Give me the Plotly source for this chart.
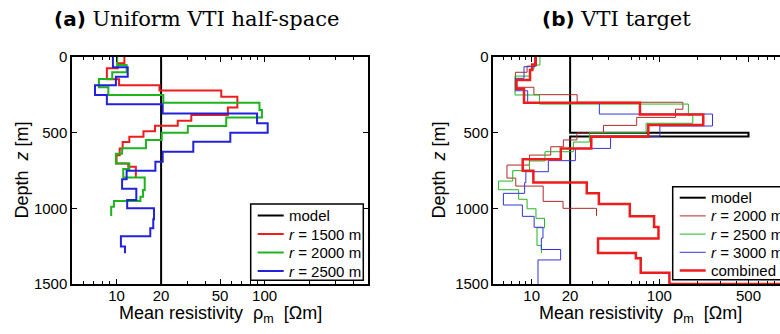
import math
import plotly.graph_objects as go

# ---------------- Panel (a): Uniform VTI half-space ----------------
a_model_top = [0]
a_model_val = [20]
a_model_bot = 1500

a_r1500_top = [0, 42, 75, 147, 187, 222, 262, 333, 383, 421, 454, 490, 527, 562, 605, 650, 703, 725]
a_r1500_val = [11.3, 10.2, 8.6, 10.4, 19.5, 51, 65.5, 56.5, 32, 25.9, 18.2, 15.2, 12.2, 11.0, 10.5, 10.0, 12.0, 13.5]
a_r1500_bot = 795

a_r2000_top = [0, 53, 101, 145, 200, 251, 302, 350, 399, 456, 500, 548, 603, 640, 703, 740, 797, 879, 923, 952, 989]
a_r2000_val = [10.1, 11.7, 9.35, 7.6, 8.8, 20.7, 92.4, 96, 55.1, 30.3, 20.2, 15.8, 10.9, 9.9, 12.2, 11.1, 15.5, 15.1, 14.5, 9.6, 9.2]
a_r2000_bot = 1051

a_r2500_top = [0, 68, 130, 187, 251, 312, 374, 438, 500, 560, 626, 692, 751, 808, 870, 945, 1000, 1072, 1132, 1185, 1252]
a_r2500_val = [9.45, 11.9, 9.9, 7.15, 8.6, 20.5, 89, 105, 58.7, 33, 20.5, 18.3, 11.7, 10.9, 13.6, 11.8, 17.9, 17.7, 16.9, 10.7, 11.4]
a_r2500_bot = 1297

# ---------------- Panel (b): VTI target ----------------
b_model_top = [0, 500, 525]
b_model_val = [20, 500, 20]
b_model_bot = 1500

b_r2000_top = [0, 60, 101, 200, 249, 299, 345, 399, 452, 502, 548, 593, 648, 714, 800, 853, 954, 1000]
b_r2000_val = [10.9, 9.2, 7.45, 10.4, 22.7, 153, 134, 66.5, 36.5, 22.6, 17.7, 14.1, 9.6, 6.4, 7.5, 12.3, 17.6, 32.2]
b_r2000_bot = 1050

b_r2500_top = [0, 53, 80, 126, 251, 311, 385, 438, 500, 562, 626, 687, 751, 820, 877, 940, 1003, 1066, 1128, 1245]
b_r2500_val = [11.6, 10.4, 9.7, 7.4, 11.5, 169, 183, 78.8, 28.3, 21.2, 12.7, 9.6, 7.1, 5.5, 7.9, 9.2, 10.8, 12.6, 11.0, 11.9]
b_r2500_bot = 1297

b_r3000_top = [0, 64, 141, 223, 306, 377, 456, 524, 604, 685, 758, 830, 901, 978, 1053, 1125, 1197, 1272, 1341]
b_r3000_val = [10.6, 8.7, 7.45, 9.3, 33.9, 261, 101, 41.5, 22.0, 13.5, 9.0, 8.8, 6.0, 8.45, 10.45, 12.25, 11.9, 16.85, 11.2]
b_r3000_bot = 1500

b_comb_top = [0, 50, 86, 152, 210, 302, 380, 450, 527, 604, 676, 751, 830, 900, 972, 1053, 1123, 1200, 1295, 1330, 1425, 1500]
b_comb_val = [10.7, 10.1, 9.7, 7.6, 8.7, 70.5, 221, 82, 29.3, 16.9, 8.5, 10.3, 27.0, 33.6, 58.7, 91, 98.5, 33.1, 65.5, 71.5, 120, 2000]
b_comb_bot = 1500

a_ticks = [10, 20, 50, 100]
b_ticks = [10, 20, 100, 500]
a_minor = [6, 7, 8, 9, 30, 40, 60, 70, 80, 90, 200, 300, 400]
b_minor = [6, 7, 8, 9, 30, 40, 60, 70, 80, 90, 200, 300, 400, 600, 700, 800]
depth_ticks = [0, 500, 1000, 1500]

a_names = ["model", "<i>r</i> = 1500 m", "<i>r</i> = 2000 m", "<i>r</i> = 2500 m"]
b_names = ["model", "<i>r</i> = 2000 m", "<i>r</i> = 2500 m", "<i>r</i> = 3000 m", "combined"]

W, H = 780, 334
SANS = "Liberation Sans"
RED, GREEN, BLUE = "#ee1c1c", "#1db41d", "#2222dd"
a_styles = [("black", 2), (RED, 2), (GREEN, 2), (BLUE, 2)]
b_styles = [("black", 2), ("#b02a2a", 1), ("#22b822", 1), ("#3333dd", 1), (RED, 2.5)]


def steps(tops, vals, bot):
    return list(vals) + [vals[-1]], list(tops) + [bot]


fig = go.Figure()

a_series = [(a_model_top, a_model_val, a_model_bot), (a_r1500_top, a_r1500_val, a_r1500_bot),
            (a_r2000_top, a_r2000_val, a_r2000_bot), (a_r2500_top, a_r2500_val, a_r2500_bot)]
b_series = [(b_model_top, b_model_val, b_model_bot), (b_r2000_top, b_r2000_val, b_r2000_bot),
            (b_r2500_top, b_r2500_val, b_r2500_bot), (b_r3000_top, b_r3000_val, b_r3000_bot),
            (b_comb_top, b_comb_val, b_comb_bot)]

for (t, v, b), name, (c, w) in zip(a_series, a_names, a_styles):
    x, y = steps(t, v, b)
    fig.add_trace(go.Scatter(x=x, y=y, mode="lines", line_shape="vh", name=name,
                             line=dict(color=c, width=w), xaxis="x", yaxis="y", showlegend=False))
for (t, v, b), name, (c, w) in zip(b_series, b_names, b_styles):
    x, y = steps(t, v, b)
    fig.add_trace(go.Scatter(x=x, y=y, mode="lines", line_shape="vh", name=name,
                             line=dict(color=c, width=w), xaxis="x2", yaxis="y2", showlegend=False))

ydom = [50 / H, 277 / H]
common_x = dict(type="log", showgrid=False, zeroline=False, showline=True, linecolor="black",
                linewidth=1.5, ticks="inside", ticklen=5, tickcolor="black", mirror="ticks",
                ticklabelstandoff=-3,
                tickfont=dict(family=SANS, size=15, color="black"))
common_y = dict(range=[1500, 0], showgrid=False, zeroline=False, showline=True, linecolor="black",
                linewidth=1.5, ticks="inside", ticklen=5, tickcolor="black", tickvals=depth_ticks,
                tickfont=dict(family=SANS, size=15, color="black"), domain=ydom)

fig.update_layout(
    width=W, height=H, paper_bgcolor="white", plot_bgcolor="white",
    margin=dict(l=0, r=0, t=0, b=0, autoexpand=False),
    xaxis=dict(common_x, domain=[72 / W, 368 / W], range=[math.log10(5), math.log10(500)],
               tickvals=a_ticks, anchor="y",
               minor=dict(tickvals=a_minor, ticks="inside", ticklen=3, tickcolor="black")),
    yaxis=dict(common_y, anchor="x", mirror="ticks"),
    xaxis2=dict(common_x, domain=[493.3 / W, 1.0],
                range=[math.log10(5), math.log10(5) + (780 - 493.3) / 127.6],
                tickvals=b_ticks, anchor="y2",
                minor=dict(tickvals=b_minor, ticks="inside", ticklen=3, tickcolor="black")),
    yaxis2=dict(common_y, anchor="x2", mirror=False),
    showlegend=False,
)


def px(x):
    return x / W


def py(y):
    return 1 - y / H


shapes = []
ann = []


def legend_box(x0, x1, y0, rows, names, styles):
    shapes.append(dict(type="rect", xref="paper", yref="paper", x0=px(x0), x1=px(x1),
                       y0=py(y0), y1=py(rows[-1] + 9.3), line=dict(color="black", width=1.5),
                       fillcolor="white", layer="above"))
    for yy, name, (c, w) in zip(rows, names, styles):
        shapes.append(dict(type="line", xref="paper", yref="paper", x0=px(x0 + 7), x1=px(x0 + 33),
                           y0=py(yy), y1=py(yy), line=dict(color=c, width=w), layer="above"))
        ann.append(dict(x=px(x0 + 36), y=py(yy), xref="paper", yref="paper", showarrow=False,
                        text=name, font=dict(family=SANS, size=15, color="black"),
                        xanchor="left", yanchor="middle"))


legend_box(250.7, 363.3, 204, [215.5, 234, 252.5, 271], a_names, a_styles)
legend_box(672.7, 830, 186.7, [197.7, 215.9, 234.1, 252.3, 270.5], b_names, b_styles)

NB = "\u00a0"
xtitle = "Mean resistivity" + NB * 2 + "ρ<sub>m</sub>" + NB * 2 + "[Ωm]"
ytitle = "Depth" + NB * 2 + "<i>z</i>" + NB + "[m]"
ann.append(dict(x=196 / W, y=py(19), xref="paper", yref="paper", showarrow=False,
                text='<span style="font-family:DejaVu Sans;font-weight:bold;font-size:20px">(a)</span> Uniform VTI half-space',
                font=dict(family="DejaVu Serif", size=21, color="black"), xanchor="center", yanchor="middle"))
ann.append(dict(x=616 / W, y=py(19), xref="paper", yref="paper", showarrow=False,
                text='<span style="font-family:DejaVu Sans;font-weight:bold;font-size:20px">(b)</span> VTI target',
                font=dict(family="DejaVu Serif", size=21, color="black"), xanchor="center", yanchor="middle"))
for cx in (220, 640):
    ann.append(dict(x=cx / W, y=py(314), xref="paper", yref="paper", showarrow=False,
                    text=xtitle, font=dict(family=SANS, size=18, color="black"),
                    xanchor="center", yanchor="middle"))
for cx in (21, 438):
    ann.append(dict(x=cx / W, y=py(170.5), xref="paper", yref="paper", showarrow=False,
                    text=ytitle, textangle=-90, font=dict(family=SANS, size=18, color="black"),
                    xanchor="center", yanchor="middle"))
fig.update_layout(annotations=ann, shapes=shapes)

fig.write_html("out.html", config={"displayModeBar": False},
               post_script="document.body.style.margin='0px';")
